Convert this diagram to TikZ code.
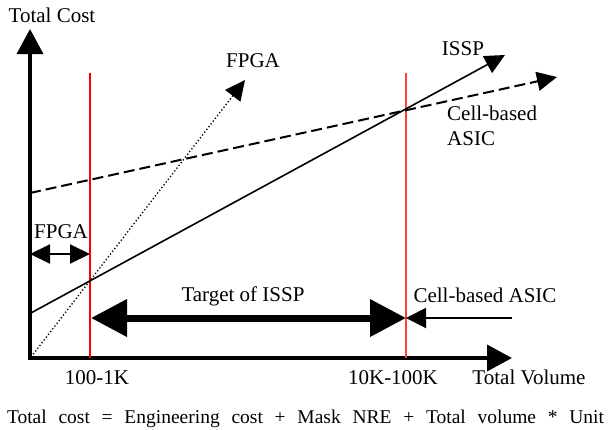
\documentclass[tikz,border=0pt]{standalone}
\usepackage{fontspec}
\setmainfont{Liberation Serif}
\usetikzlibrary{arrows.meta}
\begin{document}
\begin{tikzpicture}[x=1pt,y=-1pt,
  lbl/.style={font=\fontsize{21}{25}\selectfont, inner sep=0pt},
  axis/.style={line width=3.5pt, -{Triangle[length=25pt,width=26pt]}},
  redline/.style={red, line width=1.2pt},
  costline/.style={line width=1.6pt, -{Triangle[length=20pt,width=19pt]}},
  rangethin/.style={line width=2pt, {Triangle[length=20pt,width=19pt]}-{Triangle[length=20pt,width=19pt]}},
  rangethick/.style={line width=7pt, {Triangle[length=36pt,width=36pt]}-{Triangle[length=36pt,width=36pt]}},
  onethin/.style={line width=2pt, -{Triangle[length=20pt,width=20pt]}}
]
\useasboundingbox (0,0) rectangle (608,429);
% axes
\coordinate (O) at (30,358);
\coordinate (Ytip) at (30,29);
\coordinate (Xtip) at (512,358);
\draw[axis] (O) -- (Ytip);
\draw[axis] ([xshift=-1.75pt]O) -- (Xtip);
% red lines
\coordinate (R1t) at (90,73);
\coordinate (R1b) at (90,358);
\coordinate (R2t) at (406,73);
\coordinate (R2b) at (406,358);
\draw[redline] (R1t) -- (R1b);
\draw[redline, red!75] (R2t) -- (R2b);
% cost lines
\coordinate (Cs) at (30,193);
\coordinate (Ce) at (557,77);
\coordinate (Is) at (30,313.5);
\coordinate (Ie) at (505,55);
\coordinate (Fs) at (31,357);
\coordinate (Fe) at (245,80);
\draw[costline, dash pattern=on 11pt off 5pt, line width=2pt] (Cs) -- (Ce);
\draw[costline] (Is) -- (Ie);
\draw[costline, line width=1.3pt, dash pattern=on 1.3pt off 2.2pt] (Fs) -- (Fe);
% ranges
\coordinate (Fa) at (30,254);
\coordinate (Fb) at (90,254);
\draw[rangethin] (Fa) -- (Fb);
\coordinate (Ta) at (91,318);
\coordinate (Tb) at (406,318);
\draw[rangethick] (Ta) -- (Tb);
\coordinate (Ca) at (512,318);
\coordinate (Cb) at (406,318);
\draw[onethin] (Ca) -- (Cb);
% labels
\node[lbl] (tc) at (52,15) {Total Cost};
\node[lbl] (fpgatop) at (253,61) {FPGA};
\node[lbl] (issp) at (463,49) {ISSP};
\node[lbl, anchor=north west, align=left] (cba) at (447,106) {Cell-based\\ASIC};
\node[lbl] (fpgasm) at (61,232) {FPGA};
\node[lbl] (tgt) at (243,296) {Target of ISSP};
\node[lbl] (cb2) at (485,295) {Cell-based ASIC};
\node[lbl] (v1) at (97,378) {100-1K};
\node[lbl] (v2) at (393,378) {10K-100K};
\node[lbl] (tv) at (529,377) {Total Volume};
\node[lbl, font=\fontsize{19.5}{23}\selectfont, anchor=base] (form) at (305.5,423) {\makebox[597pt][s]{Total cost = Engineering cost + Mask NRE + Total volume * Unit}};
\end{tikzpicture}
\end{document}
